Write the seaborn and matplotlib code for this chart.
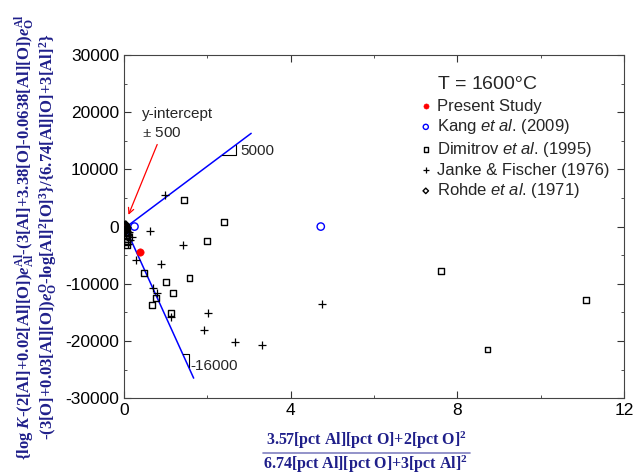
import matplotlib
matplotlib.use("Agg")
import matplotlib.pyplot as plt
from matplotlib.lines import Line2D
from matplotlib.ticker import MultipleLocator
import pandas as pd
import seaborn as sns

# data
present_x = [0.0, 0.03, 0.39]
present_y = [100, -50, -4500]

kang_x = [0.25, 4.72]
kang_y = [0, 0]

dimitrov_x = [1.44, 2.39, 2.0, 0.47, 1.01, 1.57, 1.17, 0.77, 0.68, 1.12,
              7.61, 11.08, 8.72, 0.05, 0.06, 0.07, 0.06, 0.08]
dimitrov_y = [4680, 875, -2500, -8060, -9750, -8990, -11560, -12430, -13660, -15180,
              -7830, -12780, -21490, -1500, -2200, -2700, -3200, -1000]

janke_x = [0.99, 0.62, 1.42, 0.28, 0.88, 0.69, 0.78, 1.13, 2.02, 1.91, 2.67, 3.32,
           4.75, 0.12, 0.15, 0.2, 0.1]
janke_y = [5600, -700, -3270, -5780, -6600, -10680, -11610, -15880, -15110, -18160,
           -20140, -20790, -13540, -1000, -2300, -1800, -3000]

rohde_x = [0.01, 0.02, 0.03, 0.04, 0.05, 0.06, 0.07, 0.08, 0.1, 0.03, 0.05]
rohde_y = [0, 200, -100, 300, -400, -700, -200, -1000, -1500, -600, 100]

upper_fit_x = [0.1, 3.05]
upper_fit_y = [200, 16300]
lower_fit_x = [0.05, 1.67]
lower_fit_y = [-500, -26500]

sns.set_style("ticks")
plt.rcParams["font.family"] = ["Liberation Sans", "DejaVu Sans"]
plt.rcParams["axes.unicode_minus"] = False
plt.rcParams["mathtext.fontset"] = "custom"
plt.rcParams["mathtext.rm"] = "Liberation Serif:bold"
plt.rcParams["mathtext.it"] = "Liberation Serif:bold:italic"
plt.rcParams["mathtext.bf"] = "Liberation Serif:bold"
plt.rcParams["mathtext.sf"] = "Liberation Sans:italic"

fig = plt.figure(figsize=(6.33, 4.74), dpi=100)
ax = fig.add_axes([0.196, 0.160, 0.790, 0.724])

ax.plot(upper_fit_x, upper_fit_y, color="blue", lw=1.1)
ax.plot(lower_fit_x, lower_fit_y, color="blue", lw=1.1)

series = [
    ("Present Study", present_x, present_y, dict(marker="o", s=28, color="red", edgecolor="red")),
    ("Kang $\\mathsf{et\\ al}$. (2009)", kang_x, kang_y, dict(marker="o", s=28, facecolor="none", edgecolor="blue", linewidth=1)),
    ("Dimitrov $\\mathsf{et\\ al}$. (1995)", dimitrov_x, dimitrov_y, dict(marker="s", s=18, facecolor="none", edgecolor="black", linewidth=1)),
    ("Janke & Fischer (1976)", janke_x, janke_y, dict(marker="+", s=30, color="black", linewidth=0.9)),
    ("Rohde $\\mathsf{et\\ al}$. (1971)", rohde_x, rohde_y, dict(marker="D", s=16, facecolor="none", edgecolor="black", linewidth=1)),
]
for name, xs, ys, kw in series:
    df = pd.DataFrame({"x": xs, "y": ys})
    sns.scatterplot(data=df, x="x", y="y", ax=ax, label=name, zorder=3, **kw)

# slope triangles
ax.plot([2.35, 2.69, 2.69], [12600, 12600, 14300], color="black", lw=0.8)
ax.text(2.8, 13300, "5000", fontsize=11, va="center")
ax.plot([1.41, 1.57, 1.57], [-22360, -22360, -24600], color="black", lw=0.8)
ax.text(1.6, -24300, "-16000", fontsize=11, va="center")

ax.text(0.42, 15600, "y-intercept\n$\\pm$ 500", fontsize=11, linespacing=1.45,
        family=["Liberation Sans", "DejaVu Sans"])
ax.annotate("", xy=(0.08, 1600), xytext=(0.82, 14800),
            arrowprops=dict(arrowstyle="->", color="red", lw=0.9))

ax.set_xlim(0, 12)
ax.set_ylim(-30000, 30000)
ax.xaxis.set_major_locator(MultipleLocator(4))
ax.xaxis.set_minor_locator(MultipleLocator(2))
ax.yaxis.set_major_locator(MultipleLocator(10000))
ax.yaxis.set_minor_locator(MultipleLocator(5000))
ax.tick_params(which="both", direction="in", top=True, right=True, labelsize=12.5,
               colors="#333333", labelcolor="black")
ax.tick_params(which="major", length=5)
ax.tick_params(which="minor", length=2.5)
for sp in ax.spines.values():
    sp.set_visible(True)
    sp.set_color("#444444")
ax.set_xlabel("")
ax.set_ylabel("")

leg = ax.legend(loc="upper left", bbox_to_anchor=(0.585, 0.873), frameon=False, fontsize=12,
                handletextpad=0.15, labelspacing=0.22, handlelength=1.1, markerscale=0.7,
                borderaxespad=0, borderpad=0)
ax.text(0.626, 0.915, "T = 1600$\\degree$C", transform=ax.transAxes, fontsize=14,
        va="center", ha="left", family=["Liberation Sans", "DejaVu Sans"])

navy = "#1f1f8a"
ylab = ("{log $K$-(2[Al]+0.02[Al][O])$e_{\\mathrm{Al}}^{\\mathrm{Al}}$-(3[Al]+3.38[O]-0.0638[Al][O])$e_{\\mathrm{O}}^{\\mathrm{Al}}$\n"
        "-(3[O]+0.03[Al][O])$e_{\\mathrm{O}}^{\\mathrm{O}}$-log[Al]$^2$[O]$^3$}/{6.74[Al][O]+3[Al]$^2$}")
fig.text(0.058, 0.5, ylab, rotation=90, ha="center", va="center", fontsize=12,
         family="Liberation Serif", weight="bold", color=navy, linespacing=1.05)

fig.text(0.578, 0.071, "3.57[pct Al][pct O]+2[pct O]$^2$", ha="center", va="center",
         fontsize=11.5, family="Liberation Serif", weight="bold", color=navy)
fig.add_artist(Line2D([0.416, 0.742], [0.0445, 0.0445], color="#8080c0", lw=1.2))
fig.text(0.578, 0.0205, "6.74[pct Al][pct O]+3[pct Al]$^2$", ha="center", va="center",
         fontsize=11.5, family="Liberation Serif", weight="bold", color=navy)

fig.savefig("out.png", dpi=100)
